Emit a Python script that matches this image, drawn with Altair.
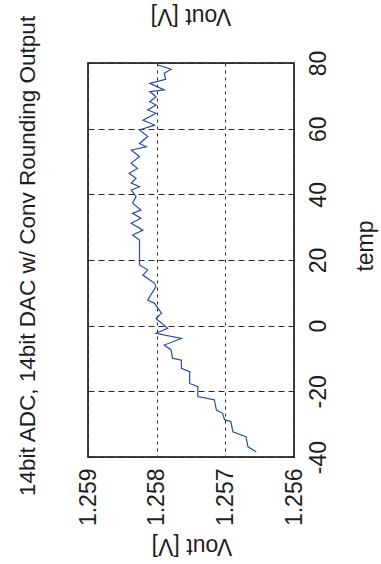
import altair as alt
import pandas as pd

# Temperature sweep (deg C) and measured output voltage (V)
temp = [79.4, 78.1, 76.9, 75.0, 73.8, 71.8, 71.3, 69.7, 68.2, 67.2,
        65.7, 64.7, 62.6, 61.1, 59.6, 57.6, 55.5, 54.5, 53.5, 51.5,
        49.5, 47.9, 46.4, 44.9, 43.4, 42.3, 41.3, 39.3, 37.3, 35.2,
        34.2, 32.7, 31.2, 29.1, 27.6, 26.1, 18.5, 17.0, 15.4, 12.9,
        11.9, 7.8, 6.8, 3.8, 2.2, -0.8, -2.3, -3.9, -5.9, -7.4,
        -9.9, -10.5, -13.0, -14.0, -17.6, -18.6, -21.6, -22.6, -25.7, -26.7,
        -28.7, -29.2, -32.3, -33.8, -36.9, -38.4]
vout = [1.25798, 1.25779, 1.25789, 1.25787, 1.25810, 1.25789, 1.25810, 1.25801, 1.25810, 1.25801,
        1.25813, 1.25801, 1.25820, 1.25803, 1.25825, 1.25813, 1.25825, 1.25815, 1.25837, 1.25825,
        1.25837, 1.25828, 1.25840, 1.25830, 1.25837, 1.25825, 1.25837, 1.25830, 1.25835, 1.25823,
        1.25835, 1.25823, 1.25837, 1.25820, 1.25835, 1.25825, 1.25825, 1.25813, 1.25820, 1.25803,
        1.25801, 1.25813, 1.25803, 1.25793, 1.25801, 1.25784, 1.25801, 1.25764, 1.25789, 1.25779,
        1.25777, 1.25764, 1.25764, 1.25752, 1.25752, 1.25740, 1.25740, 1.25716, 1.25713, 1.25704,
        1.25701, 1.25692, 1.25689, 1.25670, 1.25667, 1.25655]

vout_ticks = [1.256, 1.257, 1.258, 1.259]
temp_ticks = [-40, -20, 0, 20, 40, 60, 80]

title_text = "14bit ADC, 14bit DAC w/ Conv Rounding Output"
xlabel_text = "temp"
ylabel_text = "Vout [V]"

FONT = "Liberation Sans, Arial, sans-serif"
INK = "#1e1e1e"

W, H = 206, 394
PAD_L, PAD_T = 88, 63

df = pd.DataFrame({"temp": temp, "vout": vout})

# The figure is laid out sideways: temperature runs upward, voltage runs right-to-left.
line = alt.Chart(df).mark_line(color="#2a4aa8", strokeWidth=1.2).encode(
    x=alt.X("vout:Q",
            scale=alt.Scale(domain=[1.256, 1.259], reverse=True, nice=False, zero=False),
            axis=alt.Axis(values=vout_ticks, format=".3f", title=None, orient="bottom",
                          labelAngle=270, labelAlign="right", labelBaseline="middle",
                          labelPadding=11, ticks=False, domain=False,
                          grid=True, gridDash=[3, 4], gridColor="#2a2a2a", gridWidth=1,
                          labelFont=FONT, labelFontSize=23, labelColor=INK)),
    y=alt.Y("temp:Q",
            scale=alt.Scale(domain=[-40, 80], nice=False, zero=False),
            axis=alt.Axis(values=temp_ticks, title=None, orient="right",
                          labelExpr="'' + datum.value",
                          labelAngle=270, labelAlign="center", labelBaseline="top",
                          labelPadding=13, ticks=False, domain=False,
                          grid=True, gridDash=[6, 4], gridColor="#2a2a2a", gridWidth=1,
                          labelFont=FONT, labelFontSize=23, labelColor=INK)),
    order=alt.Order("temp:Q"),
)

labels = pd.DataFrame({
    "label": [title_text, xlabel_text, ylabel_text, ylabel_text],
    "px": [28 - PAD_L, 366 - PAD_L, 192 - PAD_L, 191 - PAD_L],
    "py": [256 - PAD_T, 246 - PAD_T, 546 - PAD_T, 16 - PAD_T],
    "ang": [270, 270, 180, 180],
    "size": [22.5, 23, 23, 23],
})

def text_layer(i):
    row = labels.iloc[i]
    return alt.Chart(labels.iloc[[i]]).mark_text(
        font=FONT, fontSize=float(row["size"]), color=INK, angle=int(row["ang"]),
        align="center", baseline="middle",
    ).encode(
        x=alt.value(float(row["px"])),
        y=alt.value(float(row["py"])),
        text="label:N",
    )

chart = alt.layer(line, *[text_layer(i) for i in range(len(labels))]).properties(
    width=W, height=H,
    autosize=alt.AutoSizeParams(type="none"),
    padding={"left": PAD_L, "top": PAD_T, "right": 381 - PAD_L - W, "bottom": 564 - PAD_T - H},
    background="white",
).configure_view(stroke="black", strokeWidth=1.5)

chart.save("out.html", embed_options={"renderer": "svg", "actions": False})
